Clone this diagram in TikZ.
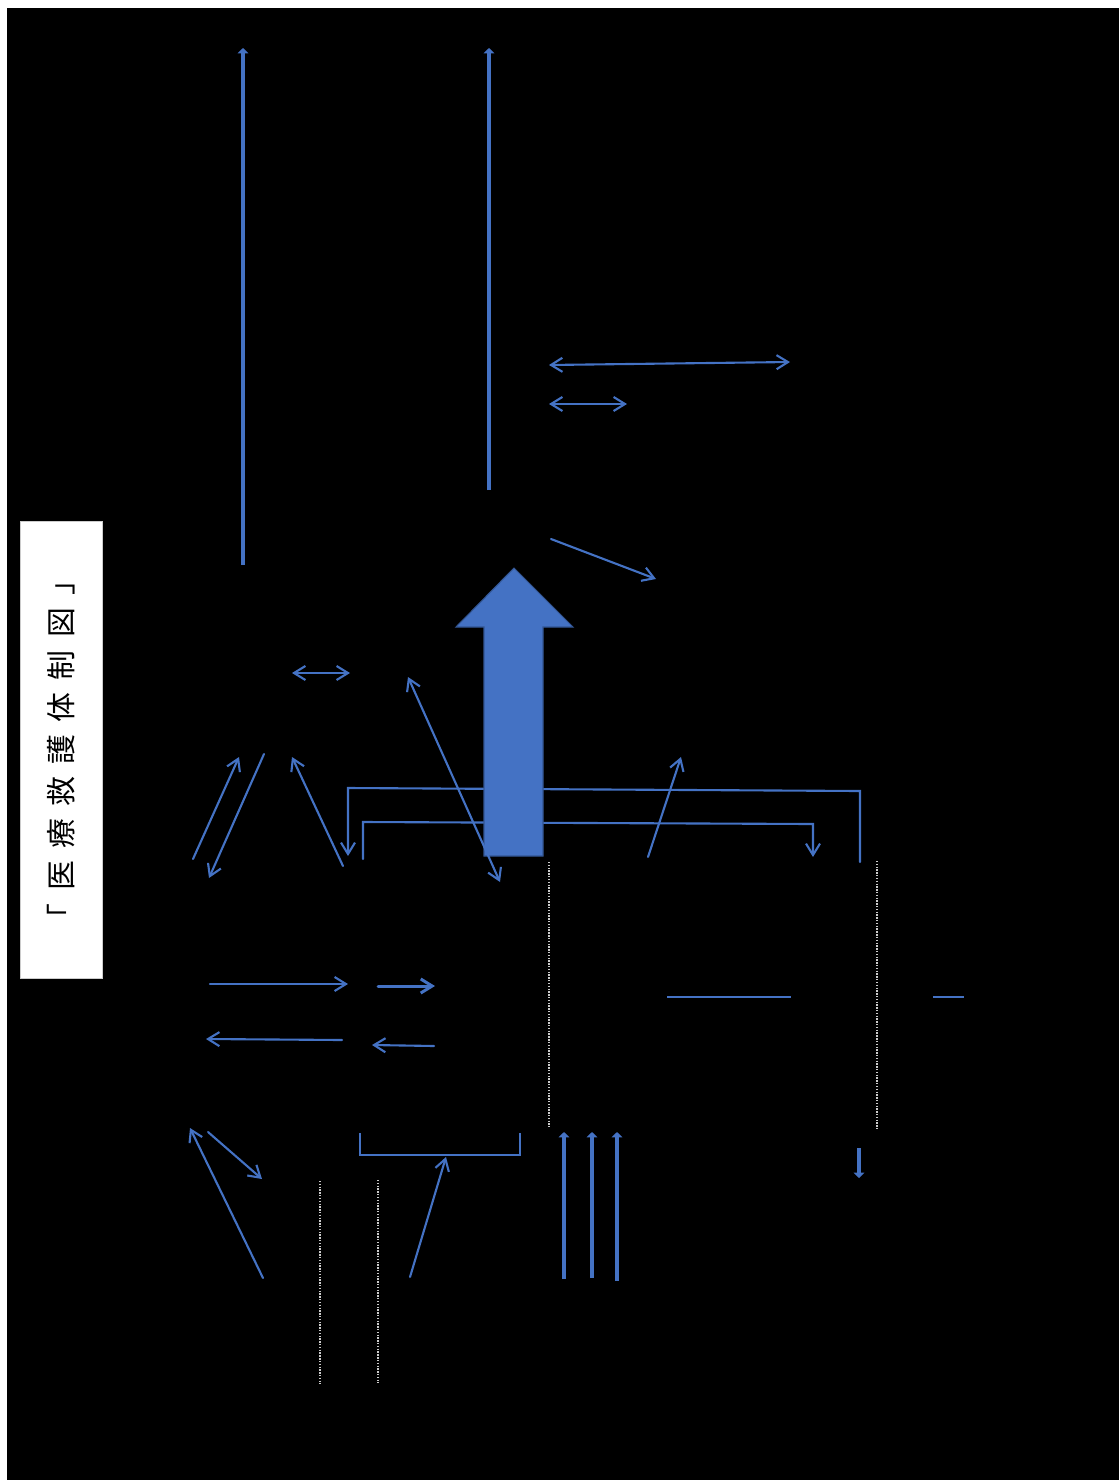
\documentclass[tikz,border=0pt]{standalone}
\usepackage{fontspec}
\newfontfamily\jpfont{Noto Sans CJK JP}
\usepackage{tikz}
\usetikzlibrary{arrows.meta}
\definecolor{officeblue}{HTML}{4472C4}
\tikzset{
    link_line/.style={
        draw=officeblue, line width=1.2pt, line cap=round
    },
    link_arrow/.style={
        link_line, -{Straight Barb[length=6.5pt, width=8pt]}
    },
    link_both/.style={
        link_line, {Straight Barb[length=6.5pt, width=8pt]}-{Straight Barb[length=6.5pt, width=8pt]}
    },
    bold_arrow/.style={
        draw=officeblue, line width=2.5pt, -{Triangle[length=3pt, width=6pt]}
    },
    bracket_line/.style={
        draw=officeblue, line width=1.6pt
    },
    sep_dots/.style={
        draw=white!80!black, line width=0.8pt, dash pattern=on 0.8pt off 0.8pt
    },
    title_box/.style={
        rectangle, fill=white, draw=gray!40, line width=0.4pt,
        minimum width=9.14cm, minimum height=1.64cm, inner sep=0pt,
        rotate=90, font=\jpfont\fontsize{17pt}{19pt}\selectfont
    }
}

\begin{document}
\begin{tikzpicture}[x=0.02cm, y=-0.02cm]

    % page with its dark backdrop
    \useasboundingbox (0,0) rectangle (1119,1481);
    \fill[white] (0,0) rectangle (1119,1481);
    \fill[black] (7,8) rectangle (1119,1480);

    \node[title_box] (title) at (61,749.5) {「\hspace{7pt}医\hspace{7pt}療\hspace{7pt}救\hspace{7pt}護\hspace{7pt}体\hspace{7pt}制\hspace{7pt}図\hspace{7pt}」};

    % end points
    \coordinate (col_l_bot) at (243,565);   \coordinate (col_l_top) at (243,48);
    \coordinate (col_r_bot) at (489,490);   \coordinate (col_r_top) at (489,48);
    \coordinate (pair_a_l) at (549,365);    \coordinate (pair_a_r) at (790,362);
    \coordinate (pair_b_l) at (549,404);    \coordinate (pair_b_r) at (627,404);
    \coordinate (slant_a_s) at (551,539);   \coordinate (slant_a_e) at (656,579);
    \coordinate (pair_c_l) at (292,673);    \coordinate (pair_c_r) at (350,673);
    \coordinate (cross_top) at (408,677);   \coordinate (cross_bot) at (500,882);
    \coordinate (fan_a_s) at (193,859);     \coordinate (fan_a_e) at (239,757);
    \coordinate (fan_b_s) at (264,754);     \coordinate (fan_b_e) at (209,878);
    \coordinate (fan_c_s) at (343,866);     \coordinate (fan_c_e) at (292,757);
    \coordinate (fan_d_s) at (648,857);     \coordinate (fan_d_e) at (681,757);

    % outer and inner feed lines
    \coordinate (outer_a) at (348,856);     \coordinate (outer_b) at (348,788);
    \coordinate (outer_c) at (860,791);     \coordinate (outer_d) at (860,862);
    \coordinate (inner_a) at (363,859);     \coordinate (inner_b) at (363,822);
    \coordinate (inner_c) at (813,824);     \coordinate (inner_d) at (813,857);

    \coordinate (row_a_s) at (210,984);     \coordinate (row_a_e) at (348,984);
    \coordinate (row_b_s) at (378,986);     \coordinate (row_b_e) at (435,986);
    \coordinate (row_c_s) at (342,1040);    \coordinate (row_c_e) at (206,1039);
    \coordinate (row_d_s) at (434,1046);    \coordinate (row_d_e) at (372,1045);
    \coordinate (flat_a_s) at (667,997);    \coordinate (flat_a_e) at (791,997);
    \coordinate (flat_b_s) at (933,997);    \coordinate (flat_b_e) at (964,997);

    \coordinate (low_a_s) at (263,1278);    \coordinate (low_a_e) at (190,1128);
    \coordinate (low_b_s) at (208,1132);    \coordinate (low_b_e) at (262,1179);
    \coordinate (cup_a) at (360,1133);      \coordinate (cup_b) at (360,1155);
    \coordinate (cup_c) at (520,1155);      \coordinate (cup_d) at (520,1133);
    \coordinate (low_c_s) at (410,1277);    \coordinate (low_c_e) at (446,1157);

    % tall uprights
    \draw[bold_arrow, line width=2.4pt] (col_l_bot) -- (col_l_top);
    \draw[bold_arrow, line width=2.4pt] (col_r_bot) -- (col_r_top);

    \draw[link_both] (pair_a_l) -- (pair_a_r);
    \draw[link_both] (pair_b_l) -- (pair_b_r);
    \draw[link_arrow] (slant_a_s) -- (slant_a_e);
    \draw[link_both] (pair_c_l) -- (pair_c_r);

    \draw[link_arrow] (fan_a_s) -- (fan_a_e);
    \draw[link_arrow] (fan_b_s) -- (fan_b_e);
    \draw[link_arrow] (fan_c_s) -- (fan_c_e);

    \draw[link_arrow, {Straight Barb[length=6.5pt, width=8pt]}-] (outer_a) -- (outer_b) -- (outer_c) -- (outer_d);
    \draw[link_arrow] (inner_a) -- (inner_b) -- (inner_c) -- (inner_d);

    % big upward block arrow
    \filldraw[fill=officeblue, draw=officeblue!75!black, line width=0.6pt]
        (484,856) -- (484,627) -- (456,627) -- (514,568) -- (573,627) -- (543,627) -- (543,856) -- cycle;

    \draw[link_both] (cross_top) -- (cross_bot);
    \draw[link_arrow] (fan_d_s) -- (fan_d_e);

    % dotted separators
    \draw[sep_dots] (549,862) coordinate (sep_a_t) -- (549,1127) coordinate (sep_a_b);
    \draw[sep_dots] (877,861) coordinate (sep_b_t) -- (877,1130) coordinate (sep_b_b);
    \draw[sep_dots] (320,1181) coordinate (sep_c_t) -- (320,1384) coordinate (sep_c_b);
    \draw[sep_dots] (378,1180) coordinate (sep_d_t) -- (378,1383) coordinate (sep_d_b);

    \draw[link_arrow] (row_a_s) -- (row_a_e);
    \draw[link_arrow, line width=1.7pt] (row_b_s) -- (row_b_e);
    \draw[link_arrow] (row_c_s) -- (row_c_e);
    \draw[link_arrow] (row_d_s) -- (row_d_e);
    \draw[link_line, line cap=butt] (flat_a_s) -- (flat_a_e);
    \draw[link_line, line cap=butt] (flat_b_s) -- (flat_b_e);

    \draw[link_arrow] (low_a_s) -- (low_a_e);
    \draw[link_arrow] (low_b_s) -- (low_b_e);
    \draw[bracket_line] (cup_a) -- (cup_b) -- (cup_c) -- (cup_d);
    \draw[link_arrow] (low_c_s) -- (low_c_e);

    % three short uprights and the small drop
    \foreach \x/\y in {564/1279, 592/1278, 617/1281} {
        \draw[bold_arrow, line width=2.8pt] (\x,\y) -- (\x,1132);
    }
    \draw[bold_arrow, line width=2.8pt] (859,1148) coordinate (drop_t) -- (859,1178) coordinate (drop_b);

\end{tikzpicture}
\end{document}
